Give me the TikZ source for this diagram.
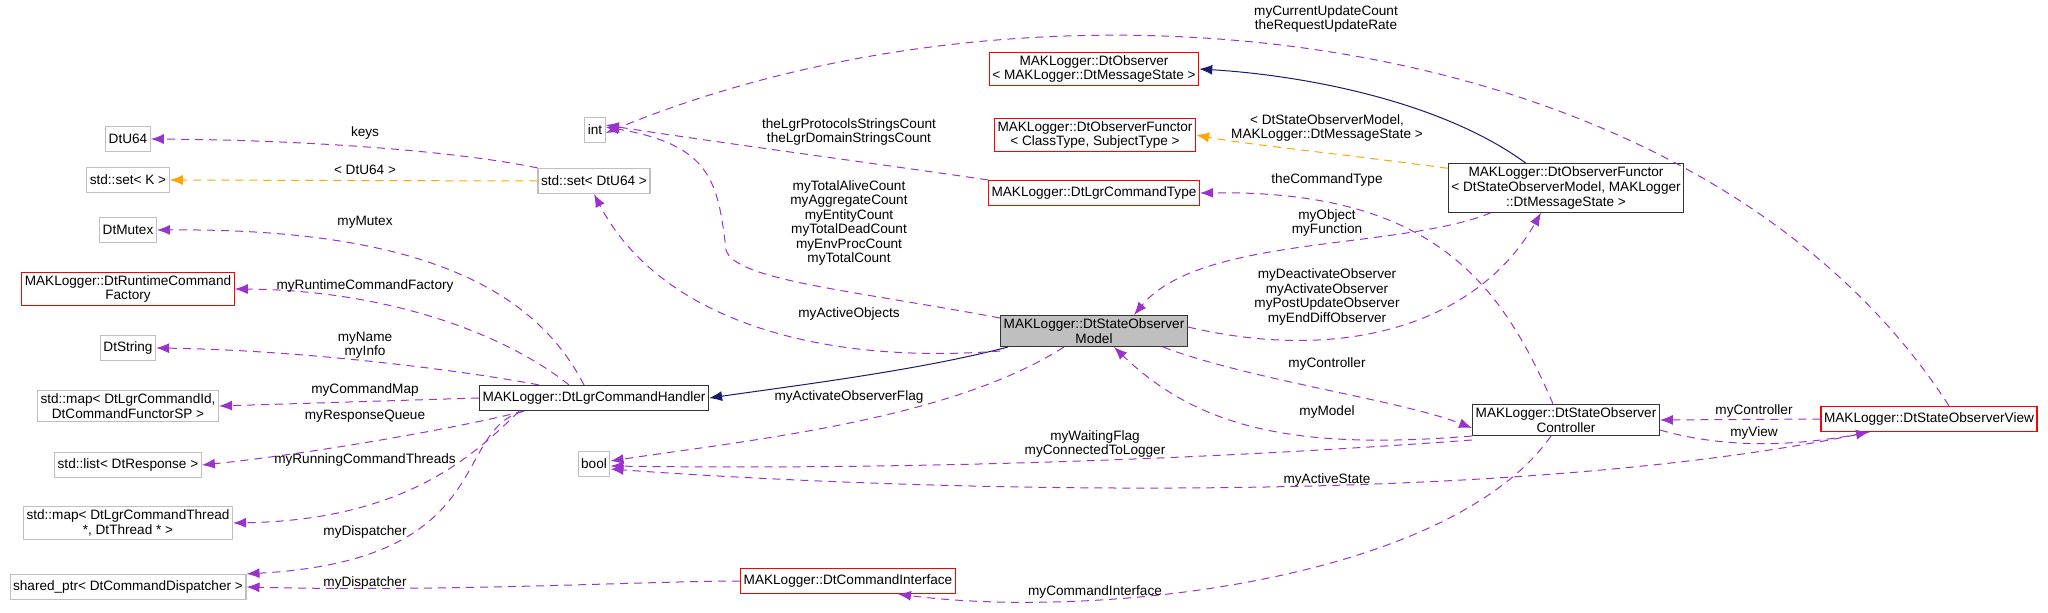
\documentclass[tikz,border=0pt]{standalone}
\usepackage{fontspec}
\setmainfont{Liberation Sans}
\usetikzlibrary{arrows.meta,positioning}
\definecolor{edgepurple}{HTML}{9A32CD}
\definecolor{edgeorange}{HTML}{FFA500}
\definecolor{edgenavy}{HTML}{191970}
\tikzset{
  cls/.style={draw=black!25, line width=1.2pt, fill=white, font=\fontsize{13.6}{14.8}\selectfont, align=center, inner sep=3pt, minimum height=25pt},
  doc/.style={cls, draw=black!80},
  red/.style={cls, draw=red},
  cur/.style={cls, draw=black!80, fill=black!25},
  use/.style={draw=edgepurple, line width=1pt, dash pattern=on 8pt off 6pt, -{Latex[length=13pt,width=10pt]}},
  tmpl/.style={use, draw=edgeorange},
  inh/.style={draw=edgenavy, line width=1pt, -{Latex[length=13pt,width=10pt]}},
  lbl/.style={font=\fontsize{13.6}{14.5}\selectfont, align=center, inner sep=0pt}
}
\begin{document}
\begin{tikzpicture}[x=1pt,y=-1pt]
  \useasboundingbox (0,0) rectangle (2048,613);

  % left column
  \node[cls] (u64) at (128,139) {DtU64};
  \node[cls] (setk) at (128,180) {std::set\textless{} K \textgreater};
  \node[cls] (mutex) at (128,230) {DtMutex};
  \node[red] (factory) at (128,289) {MAKLogger::DtRuntimeCommand\\Factory};
  \node[cls] (string) at (128,348) {DtString};
  \node[cls] (cmdmap) at (128,406) {std::map\textless{} DtLgrCommandId,\\DtCommandFunctorSP \textgreater};
  \node[cls] (resp) at (128,465) {std::list\textless{} DtResponse \textgreater};
  \node[cls] (thrmap) at (128,523) {std::map\textless{} DtLgrCommandThread\\*, DtThread * \textgreater};
  \node[cls] (shared) at (128,587) {shared\_ptr\textless{} DtCommandDispatcher \textgreater};

  % middle
  \node[cls] (int) at (595,130) {int};
  \node[cls] (setu64) at (594,181) {std::set\textless{} DtU64 \textgreater};
  \node[doc] (handler) at (594,398) {MAKLogger::DtLgrCommandHandler};
  \node[cls] (bool) at (594,464) {bool};
  \node[red] (observer) at (1094,69) {MAKLogger::DtObserver\\\textless{} MAKLogger::DtMessageState \textgreater};
  \node[red] (functor) at (1095,135) {MAKLogger::DtObserverFunctor\\\textless{} ClassType, SubjectType \textgreater};
  \node[red] (cmdtype) at (1094,193) {MAKLogger::DtLgrCommandType};
  \node[red] (iface) at (848,581) {MAKLogger::DtCommandInterface};
  \node[cur] (model) at (1094,331) {MAKLogger::DtStateObserver\\Model};

  % right
  \node[doc] (smfunctor) at (1566,188) {MAKLogger::DtObserverFunctor\\\textless{} DtStateObserverModel, MAKLogger\\::DtMessageState \textgreater};
  \node[doc] (ctrl) at (1566,420) {MAKLogger::DtStateObserver\\Controller};
  \node[red] (view) at (1929,419) {MAKLogger::DtStateObserverView};

  % std::set<DtU64>
  \draw[use] (setu64.north west) .. controls (450,150) and (300,140) .. (u64.east);
  \node[lbl] (lkeys) at (365,133) {keys};
  \draw[tmpl] (setu64.west) -- (setk.east);
  \node[lbl] (lsetk) at (365,170) {\textless{} DtU64 \textgreater};

  % command handler members
  \draw[use] ([xshift=-10pt]handler.north) .. controls (540,300) and (440,228) .. (mutex.east);
  \node[lbl] (lmutex) at (365,222) {myMutex};
  \draw[use] ([xshift=-25pt]handler.north) .. controls (500,330) and (380,290) .. (factory.east);
  \node[lbl] (lfactory) at (365,286) {myRuntimeCommandFactory};
  \draw[use] ([xshift=-55pt]handler.north) .. controls (460,370) and (300,350) .. (string.east);
  \node[lbl] (lstring) at (365,345) {myName\\myInfo};
  \draw[use] (handler.west) -- (cmdmap.east);
  \node[lbl] (lcmdmap) at (365,390) {myCommandMap};
  \draw[use] ([xshift=-70pt]handler.south) .. controls (450,430) and (300,455) .. (resp.east);
  \node[lbl] (lresp) at (365,416) {myResponseQueue};
  \draw[use] ([xshift=-75pt]handler.south) .. controls (470,460) and (400,520) .. (thrmap.east);
  \node[lbl] (lthr) at (365,460) {myRunningCommandThreads};
  \draw[use] ([xshift=-70pt]handler.south) .. controls (450,430) and (500,560) .. (shared.north east);
  \node[lbl] (ldisp) at (365,532) {myDispatcher};
  \draw[use] (iface.west) .. controls (650,581) and (450,592) .. (shared.east);
  \node[lbl] (ldisp2) at (365,583) {myDispatcher};

  % state observer model
  \draw[inh] ([xshift=8pt]model.south west) .. controls (920,370) and (800,385) .. (handler.east);
  \draw[use] ([yshift=-3pt]model.north west) .. controls (850,290) and (735,280) .. (726,250) .. controls (718,180) and (710,145) .. ([yshift=3pt]int.east);
  \node[lbl] (lcounts) at (849,223) {myTotalAliveCount\\myAggregateCount\\myEntityCount\\myTotalDeadCount\\myEnvProcCount\\myTotalCount};
  \draw[use] (cmdtype.north west) .. controls (850,160) and (700,140) .. ([yshift=5pt]int.east);
  \node[lbl] (lstrings) at (849,132) {theLgrProtocolsStringsCount\\theLgrDomainStringsCount};
  \draw[use] ([xshift=20pt]view.north) .. controls (1700,20) and (1050,-50) .. ([yshift=-3pt]int.east);
  \node[lbl] (lupdate) at (1326,19) {myCurrentUpdateCount\\theRequestUpdateRate};
  \draw[use] ([yshift=-4pt]model.south west) .. controls (820,365) and (660,320) .. (setu64.south);
  \node[lbl] (lactive) at (849,314) {myActiveObjects};
  \draw[use] ([xshift=-30pt]model.south) .. controls (950,420) and (750,440) .. ([yshift=3pt]bool.east);
  \node[lbl] (lflag) at (849,397) {myActivateObserverFlag};
  \draw[use] ([yshift=-4pt]ctrl.south west) .. controls (1200,460) and (900,470) .. ([yshift=-2pt]bool.east);
  \node[lbl] (lwait) at (1095,444) {myWaitingFlag\\myConnectedToLogger};
  \draw[use] ([xshift=-60pt]view.south) .. controls (1500,510) and (900,490) .. ([yshift=-5pt]bool.east);
  \node[lbl] (lstate) at (1327,480) {myActiveState};

  % observer functor
  \draw[inh] ([xshift=-40pt]smfunctor.north) .. controls (1440,100) and (1300,75) .. (observer.east);
  \draw[tmpl] ([yshift=-5pt]smfunctor.north west) .. controls (1350,155) and (1250,145) .. (functor.east);
  \node[lbl] (ltmpl) at (1327,128) {\textless{} DtStateObserverModel,\\MAKLogger::DtMessageState \textgreater};
  \draw[use] ([xshift=-75pt]smfunctor.south) .. controls (1400,250) and (1200,235) .. ([xshift=40pt]model.north);
  \node[lbl] (lobj) at (1327,223) {myObject\\myFunction};
  \draw[use] ([yshift=4pt]model.east) .. controls (1350,365) and (1480,320) .. ([xshift=-25pt]smfunctor.south);
  \node[lbl] (lobs) at (1327,297) {myDeactivateObserver\\myActivateObserver\\myPostUpdateObserver\\myEndDiffObserver};

  % controller
  \draw[use] ([xshift=-25pt]model.south east) .. controls (1250,380) and (1400,400) .. ([yshift=-8pt]ctrl.west);
  \node[lbl] (lctrl) at (1327,364) {myController};
  \draw[use] ([yshift=-16pt]ctrl.west) .. controls (1300,450) and (1200,430) .. ([xshift=20pt]model.south);
  \node[lbl] (lmodel) at (1327,412) {myModel};
  \draw[use] ([xshift=-13pt]ctrl.north) .. controls (1500,280) and (1430,190) .. (cmdtype.east);
  \node[lbl] (lctype) at (1327,180) {theCommandType};
  \draw[use] ([xshift=-15pt]ctrl.south) .. controls (1450,580) and (1100,620) .. ([xshift=50pt]iface.south);
  \node[lbl] (liface) at (1095,592) {myCommandInterface};
  \draw[use] (view.west) -- (ctrl.east);
  \node[lbl] (lctrl2) at (1754,411) {myController};
  \draw[use] ([yshift=-10pt]ctrl.east) .. controls (1730,450) and (1800,445) .. ([xshift=-60pt]view.south);
  \node[lbl] (lview) at (1754,433) {myView};
\end{tikzpicture}
\end{document}
